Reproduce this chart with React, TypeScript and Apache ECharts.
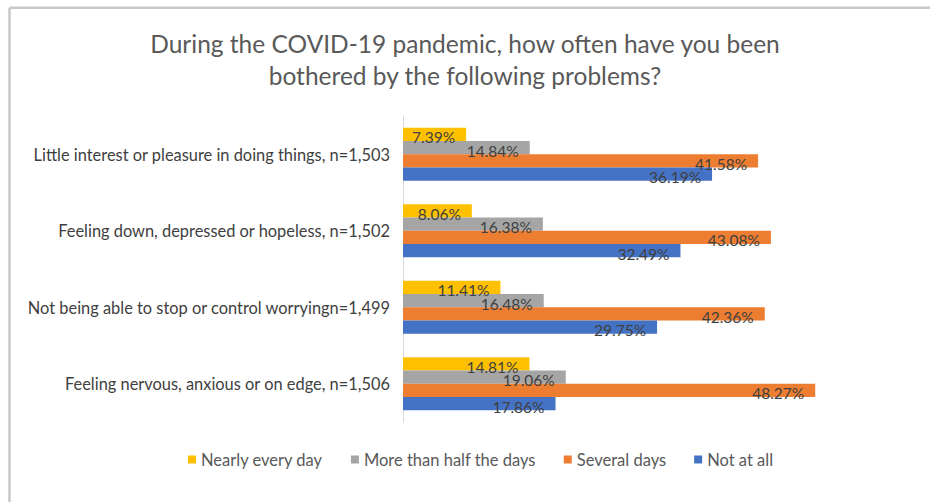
import React, { useEffect, useRef } from "react";
import * as echarts from "echarts";

const categories = [
  "Little interest or pleasure in doing things, n=1,503",
  "Feeling down, depressed or hopeless, n=1,502",
  "Not being able to stop or control worryingn=1,499",
  "Feeling nervous, anxious or on edge, n=1,506",
];
const seriesNames = ["Nearly every day", "More than half the days", "Several days", "Not at all"];
const nearlyEveryDay = [7.39, 8.06, 11.41, 14.81];
const moreThanHalf = [14.84, 16.38, 16.48, 19.06];
const severalDays = [41.58, 43.08, 42.36, 48.27];
const notAtAll = [36.19, 32.49, 29.75, 17.86];
const colors = ["#FFC000", "#A5A5A5", "#ED7D31", "#4472C4"];

const FONT = "Lato";

export default function App() {
  const ref = useRef<HTMLDivElement>(null);
  useEffect(() => {
    const chart = echarts.init(ref.current!, null, { renderer: "svg" });
    const values = [nearlyEveryDay, moreThanHalf, severalDays, notAtAll];
    chart.setOption({
      animation: false,
      backgroundColor: "#ffffff",
      textStyle: { fontFamily: FONT },
      title: {
        text: "During the COVID-19 pandemic, how often have you been\nbothered by the following problems?",
        left: "center",
        top: 22,
        textStyle: { fontFamily: FONT, fontSize: 24.5, fontWeight: "normal", color: "#595959", lineHeight: 32 },
      },
      graphic: [
        {
          type: "rect",
          shape: { x: 900, y: 9.5, width: 30, height: 60 },
          style: { fill: "#ffffff" },
          silent: true,
          z: 100,
        },
        {
          type: "line",
          shape: { x1: 9.5, y1: 7.8, x2: 930, y2: 7.8 },
          style: { stroke: "#c8c8c8", lineWidth: 2.5 },
          silent: true,
        },
        {
          type: "line",
          shape: { x1: 9.5, y1: 7.8, x2: 9.5, y2: 502 },
          style: { stroke: "#c8c8c8", lineWidth: 2.5 },
          silent: true,
        },
      ],
      legend: {
        bottom: 29,
        left: 183,
        itemWidth: 8,
        itemHeight: 8,
        itemGap: 28,
        icon: "rect",
        textStyle: { fontFamily: FONT, fontSize: 16.5, color: "#595959" },
        data: seriesNames,
      },
      grid: { left: 403, top: 116, width: 427, height: 306, containLabel: false },
      xAxis: {
        type: "value",
        min: 0,
        max: 50,
        show: false,
      },
      yAxis: {
        type: "category",
        data: categories,
        inverse: true,
        axisLine: { show: true, lineStyle: { color: "#d9d9d9", width: 1 } },
        axisTick: { show: false },
        axisLabel: { fontFamily: FONT, fontSize: 16.4, color: "#404040", margin: 13 },
      },
      series: seriesNames.map((name, i) => ({
        name,
        type: "bar",
        data: values[i],
        itemStyle: { color: colors[i] },
        barGap: "0%",
        barCategoryGap: "31%",
        label: {
          show: true,
          position: "insideRight",
          distance: 11,
          offset: [0, 3],
          formatter: (p: any) => p.value.toFixed(2) + "%",
          fontFamily: FONT,
          fontSize: 15.5,
          color: "#404040",
        },
      })),
    });
    return () => chart.dispose();
  }, []);
  return (
    <div
      ref={ref}
      style={{ position: "fixed", left: 0, top: 0, width: 930, height: 502 }}
    />
  );
}
